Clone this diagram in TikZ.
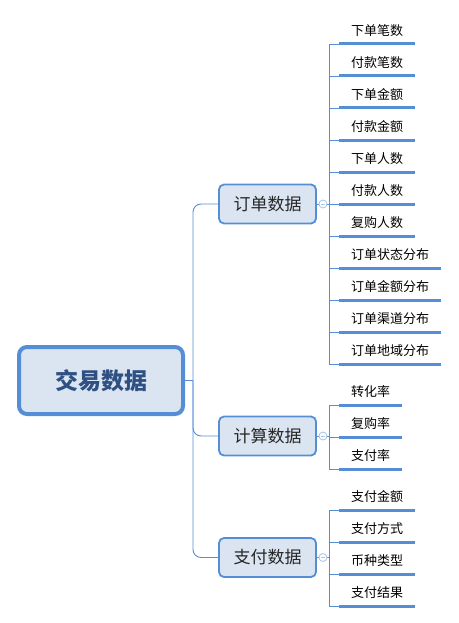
\documentclass[tikz,border=0pt]{standalone}
\usepackage{fontspec}
\setmainfont{Noto Sans CJK SC}
\usetikzlibrary{positioning, calc}
\definecolor{mapBlue}{HTML}{558ED5}
\definecolor{mapFill}{HTML}{DBE5F1}
\definecolor{rootText}{HTML}{2F5082}
\definecolor{dotBlue}{HTML}{A8C4E8}
\tikzset{
    rootNode/.style={draw=mapBlue, line width=4pt, fill=mapFill, rounded corners=8pt, minimum width=164pt, minimum height=67pt, font=\fontsize{23}{26}\selectfont\bfseries, text=rootText},
    branchNode/.style={draw=mapBlue, line width=1.8pt, fill=mapFill, rounded corners=5pt, minimum width=97pt, minimum height=39pt, font=\fontsize{17}{20}\selectfont, text=black!85},
    leafNode/.style={anchor=south west, inner xsep=12pt, inner ysep=6pt, text height=10pt, text depth=2pt, font=\fontsize{13}{15}\selectfont},
    dotNode/.style={circle, draw=dotBlue, fill=white, line width=0.8pt, inner sep=0pt, minimum size=8pt,
        path picture={\draw[dotBlue, line width=0.8pt] ([xshift=-2pt]path picture bounding box.center) -- ([xshift=2pt]path picture bounding box.center);}},
    thinLine/.style={draw=mapBlue, line width=0.9pt},
    underLine/.style={draw=mapBlue, line width=3pt}
}

\begin{document}
\begin{tikzpicture}[x=1pt, y=-1pt]
    \useasboundingbox (0,0) rectangle (458,623);
    % --- root and trunk ---
    \node[rootNode] (root) at (101,380.5) {交易数据};
    \node[branchNode] (b1) at (267.5,204) {订单数据};
    \node[branchNode] (b2) at (267.5,436) {计算数据};
    \node[branchNode] (b3) at (267.5,557.5) {支付数据};
    \coordinate (hub) at (193,380.5);
    \draw[thinLine] (root.east) -- (hub);
    \draw[thinLine, rounded corners=8pt] (hub) |- (b1.west);
    \draw[thinLine, rounded corners=8pt] (hub) |- (b2.west);
    \draw[thinLine, rounded corners=8pt] (hub) |- (b3.west);
    % --- branch 1: order data ---
    \begin{scope}
        \coordinate (o1) at (329,204);
        \draw[thinLine] (b1.east) -- (o1);
        \node[dotNode] (d1) at ($(b1.east)!0.5!(o1)$) {};
        \node[leafNode] (l1a) at (339,44) {下单笔数};
        \node[leafNode] (l1b) at (339,76) {付款笔数};
        \node[leafNode] (l1c) at (339,108) {下单金额};
        \node[leafNode] (l1d) at (339,140) {付款金额};
        \node[leafNode] (l1e) at (339,172) {下单人数};
        \node[leafNode] (l1f) at (339,204) {付款人数};
        \node[leafNode] (l1g) at (339,236) {复购人数};
        \node[leafNode] (l1h) at (339,268) {订单状态分布};
        \node[leafNode] (l1i) at (339,300) {订单金额分布};
        \node[leafNode] (l1j) at (339,332) {订单渠道分布};
        \node[leafNode] (l1k) at (339,364) {订单地域分布};
        \draw[thinLine] (o1) |- (l1a.south west); \draw[thinLine] (o1) |- (l1k.south west);
        \draw[thinLine] (o1) |- (l1b.south west); \draw[thinLine] (o1) |- (l1j.south west);
        \draw[thinLine] (o1) |- (l1c.south west); \draw[thinLine] (o1) |- (l1i.south west);
        \draw[thinLine] (o1) |- (l1d.south west); \draw[thinLine] (o1) |- (l1h.south west);
        \draw[thinLine] (o1) |- (l1e.south west); \draw[thinLine] (o1) |- (l1g.south west);
        \draw[thinLine] (o1) -- (l1f.south west);
        \draw[underLine] (l1a.south west) -- (l1a.south east); \draw[underLine] (l1b.south west) -- (l1b.south east);
        \draw[underLine] (l1c.south west) -- (l1c.south east); \draw[underLine] (l1d.south west) -- (l1d.south east);
        \draw[underLine] (l1e.south west) -- (l1e.south east); \draw[underLine] (l1f.south west) -- (l1f.south east);
        \draw[underLine] (l1g.south west) -- (l1g.south east); \draw[underLine] (l1h.south west) -- (l1h.south east);
        \draw[underLine] (l1i.south west) -- (l1i.south east); \draw[underLine] (l1j.south west) -- (l1j.south east);
        \draw[underLine] (l1k.south west) -- (l1k.south east);
    \end{scope}
    % --- branch 2: computed data ---
    \begin{scope}
        \coordinate (o2) at (329,436);
        \draw[thinLine] (b2.east) -- (o2);
        \node[dotNode] (d2) at ($(b2.east)!0.5!(o2)$) {};
        \node[leafNode] (l2a) at (339,405) {转化率};
        \node[leafNode] (l2b) at (339,437) {复购率};
        \node[leafNode] (l2c) at (339,469) {支付率};
        \draw[thinLine] (o2) |- (l2a.south west);
        \draw[thinLine] (o2) |- (l2b.south west);
        \draw[thinLine] (o2) |- (l2c.south west);
        \draw[underLine] (l2a.south west) -- (l2a.south east);
        \draw[underLine] (l2b.south west) -- (l2b.south east);
        \draw[underLine] (l2c.south west) -- (l2c.south east);
    \end{scope}
    % --- branch 3: payment data ---
    \begin{scope}
        \coordinate (o3) at (329,557.5);
        \draw[thinLine] (b3.east) -- (o3);
        \node[dotNode] (d3) at ($(b3.east)!0.5!(o3)$) {};
        \node[leafNode] (l3a) at (339,510) {支付金额};
        \node[leafNode] (l3b) at (339,542) {支付方式};
        \node[leafNode] (l3c) at (339,574) {币种类型};
        \node[leafNode] (l3d) at (339,606) {支付结果};
        \draw[thinLine] (o3) |- (l3a.south west);
        \draw[thinLine] (o3) |- (l3b.south west);
        \draw[thinLine] (o3) |- (l3c.south west);
        \draw[thinLine] (o3) |- (l3d.south west);
        \draw[underLine] (l3a.south west) -- (l3a.south east);
        \draw[underLine] (l3b.south west) -- (l3b.south east);
        \draw[underLine] (l3c.south west) -- (l3c.south east);
        \draw[underLine] (l3d.south west) -- (l3d.south east);
    \end{scope}
\end{tikzpicture}
\end{document}
